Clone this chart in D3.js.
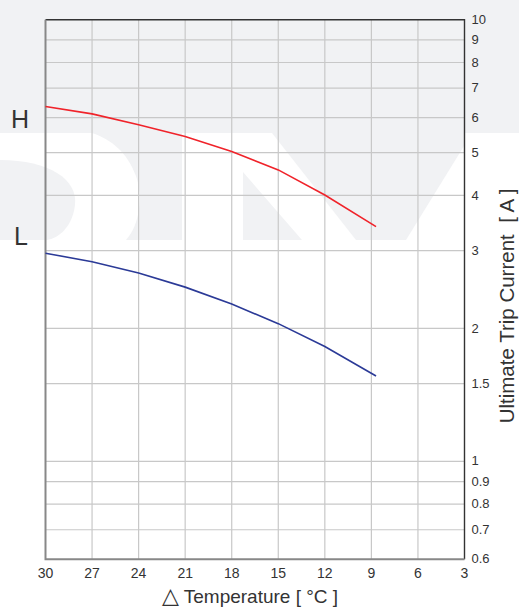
<!DOCTYPE html>
<html>
<head>
<meta charset="utf-8">
<script src="https://cdn.jsdelivr.net/npm/d3@7"></script>
<style>
  body { margin: 0; background: #fff; }
  svg text { font-family: "Liberation Sans", Arial, sans-serif; fill: #333; }
</style>
</head>
<body>
<svg id="chart"></svg>
<script>
// temperature difference (°C), with trip current in A
const tempTicks = [30, 27, 24, 21, 18, 15, 12, 9, 6, 3];
const currentTicks = [0.6, 0.7, 0.8, 0.9, 1, 1.5, 2, 3, 4, 5, 6, 7, 8, 9, 10];
const tempH = [30, 27, 24, 21, 18, 15, 12, 8.7];
const currentH = [6.36, 6.12, 5.78, 5.44, 5.03, 4.57, 4.01, 3.40];
const tempL = [30, 27, 24, 21, 18, 15, 12, 8.7];
const currentL = [2.96, 2.83, 2.67, 2.48, 2.27, 2.05, 1.82, 1.56];

const width = 519, height = 608;
const margin = { top: 19.7, right: 54.5, bottom: 48.7, left: 45.5 };

const svg = d3.select("#chart")
  .attr("width", width)
  .attr("height", height);

// faint logo watermark behind the grid
const wm = svg.append("g").attr("fill", "#f1f2f4");
wm.append("rect").attr("x", 0).attr("y", 0).attr("width", width).attr("height", 133);
wm.append("path").attr("d", "M0,160 C50,160 78,180 75,205 C72,230 55,240 45,240 L0,240 Z");
wm.append("path").attr("d", "M92,133 L182,133 L182,240 L126,240 C140,225 143,196 136,176 C127,152 112,140 92,133 Z");
wm.append("path").attr("d", "M243,172 L243,240 L302,240 Z");
wm.append("path").attr("d", "M272,133 L464,133 L464,146 L406,240 L356,240 Z");

const x = d3.scaleLinear()
  .domain([30, 3])
  .range([margin.left, width - margin.right]);

const y = d3.scaleLog()
  .domain([0.6, 10])
  .range([height - margin.bottom, margin.top]);

// grid
svg.append("g")
  .selectAll("line")
  .data(tempTicks.slice(1, -1))
  .join("line")
    .attr("x1", d => x(d)).attr("x2", d => x(d))
    .attr("y1", margin.top).attr("y2", height - margin.bottom)
    .attr("stroke", "#c8c8c8")
    .attr("stroke-width", 1.2);

svg.append("g")
  .selectAll("line")
  .data(currentTicks.slice(1, -1))
  .join("line")
    .attr("x1", margin.left).attr("x2", width - margin.right)
    .attr("y1", d => y(d)).attr("y2", d => y(d))
    .attr("stroke", "#c8c8c8")
    .attr("stroke-width", 1.2);

// frame: dark top/right, grey left/bottom
svg.append("path")
  .attr("d", `M${margin.left},${margin.top} H${width - margin.right} V${height - margin.bottom}`)
  .attr("fill", "none")
  .attr("stroke", "#333")
  .attr("stroke-width", 1.4);

svg.append("path")
  .attr("d", `M${margin.left},${margin.top} V${height - margin.bottom} H${width - margin.right}`)
  .attr("fill", "none")
  .attr("stroke", "#888")
  .attr("stroke-width", 2);

// curves
const line = d3.line()
  .x(d => x(d[0]))
  .y(d => y(d[1]));

svg.append("path")
  .datum(d3.zip(tempH, currentH))
  .attr("d", line)
  .attr("fill", "none")
  .attr("stroke", "#f0232a")
  .attr("stroke-width", 1.6);

svg.append("path")
  .datum(d3.zip(tempL, currentL))
  .attr("d", line)
  .attr("fill", "none")
  .attr("stroke", "#2b3a97")
  .attr("stroke-width", 1.6);

// tick labels
svg.append("g")
  .selectAll("text")
  .data(tempTicks)
  .join("text")
    .attr("x", d => x(d))
    .attr("y", 578)
    .attr("text-anchor", "middle")
    .style("font-size", "14px")
    .text(d => d);

svg.append("g")
  .selectAll("text")
  .data(currentTicks)
  .join("text")
    .attr("x", 471.5)
    .attr("y", d => y(d))
    .attr("dy", "0.32em")
    .style("font-size", "13px")
    .text(d => d);

// axis titles
const xt = svg.append("text")
  .attr("x", 250)
  .attr("y", 603)
  .attr("text-anchor", "middle")
  .style("font-size", "19px")
  .style("white-space", "pre");
xt.append("tspan").style("font-family", "DejaVu Sans").style("font-size", "22px").text("△");
xt.append("tspan").text(" Temperature [ °C ]");

svg.append("text")
  .attr("transform", "translate(513.5,306) rotate(-90)")
  .attr("text-anchor", "middle")
  .style("font-size", "20.5px")
  .style("white-space", "pre")
  .text("Ultimate Trip Current  [ A ]");

// H / L markers
svg.append("text")
  .attr("x", 20).attr("y", 128)
  .attr("text-anchor", "middle")
  .style("font-size", "25px")
  .text("H");

svg.append("text")
  .attr("x", 21).attr("y", 245)
  .attr("text-anchor", "middle")
  .style("font-size", "25px")
  .text("L");
</script>
</body>
</html>
